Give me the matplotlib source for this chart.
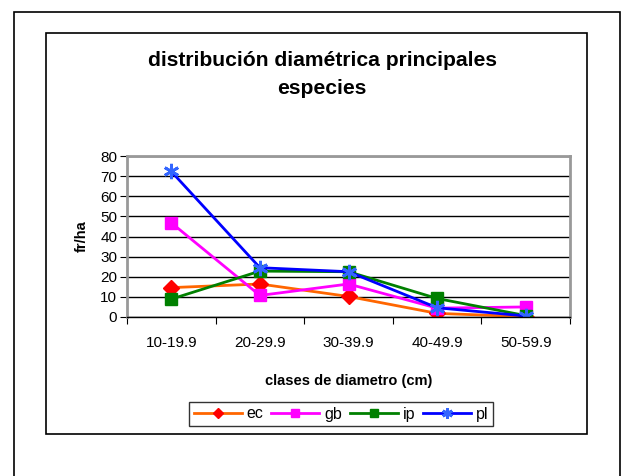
import matplotlib.pyplot as plt
from matplotlib.patches import Rectangle

plt.rcParams['font.family'] = ['Liberation Sans', 'DejaVu Sans']

clases = ['10-19.9', '20-29.9', '30-39.9', '40-49.9', '50-59.9']
ec = [14.6, 16.4, 10.2, 1.8, 0.2]
gb = [46.8, 10.7, 16.4, 4.4, 5.0]
ip = [8.9, 22.8, 22.5, 9.2, 0.7]
pl = [72.3, 24.5, 22.5, 4.6, 0.5]

W, H = 622, 476
fig = plt.figure(figsize=(W / 100, H / 100), dpi=100)

# marcos exterior e interior (coordenadas en pixeles)
def px_rect(x0, y0, x1, y1, lw):
    return Rectangle((x0 / W, 1 - y1 / H), (x1 - x0) / W, (y1 - y0) / H,
                     transform=fig.transFigure, fill=False, edgecolor='black',
                     linewidth=lw, clip_on=False)

fig.patches.append(px_rect(14, 12, 620, 490, 1.2))
fig.patches.append(px_rect(46, 33, 587, 434, 1.2))

ax = fig.add_axes([127 / W, 1 - 317 / H, (570 - 127) / W, (317 - 156) / H])

x = range(len(clases))
ax.plot(x, ec, color='#FF6600', lw=2, marker='D', ms=8, mfc='#FF0000', mec='#FF0000', label='ec')
ax.plot(x, gb, color='#FF00FF', lw=2, marker='s', ms=8, mfc='#FF00FF', mec='#FF00FF', label='gb')
ax.plot(x, ip, color='#008000', lw=2, marker='s', ms=8, mfc='#008000', mec='#008000', label='ip')
ax.plot(x, pl, color='#0000FF', lw=2, marker=(6, 2, 0), ms=11, mec='#3366FF', mew=2, label='pl')

ax.set_xlim(-0.5, 4.5)
ax.set_ylim(0, 80)
ax.set_yticks(range(0, 81, 10))
ax.yaxis.grid(True, color='black', lw=1)
ax.set_axisbelow(True)
for s in ax.spines.values():
    s.set_color('#999999')
    s.set_linewidth(2)
ax.spines['bottom'].set_color('black')
ax.spines['bottom'].set_linewidth(1)

ax.set_xticks([i + 0.5 for i in range(-1, 5)])
ax.set_xticklabels([])
ax.set_xticks(list(x), minor=True)
ax.set_xticklabels(clases, minor=True, fontsize=11)
ax.tick_params(axis='x', which='minor', length=0, pad=14)
ax.tick_params(axis='x', which='major', direction='out', length=5, color='black')
ax.tick_params(axis='y', direction='out', length=5, labelsize=11, pad=2)

ax.set_ylabel('fr/ha', fontsize=10.5, fontweight='bold', labelpad=8)
ax.set_xlabel('clases de diametro (cm)', fontsize=10.5, fontweight='bold', labelpad=17)

fig.text(322 / W, 1 - 75 / H, 'distribución diamétrica principales\nespecies',
         ha='center', va='center', fontsize=15.2, fontweight='bold', linespacing=1.6)

leg = fig.legend(loc='center', bbox_to_anchor=(341 / W, 1 - 414 / H), ncol=4,
                 frameon=True, fancybox=False, fontsize=11.5, handlelength=3.0,
                 columnspacing=0.5, handletextpad=0.3, borderpad=0.3, markerscale=0.7)
leg.get_frame().set_edgecolor('black')
leg.get_frame().set_linewidth(1)

fig.savefig('out.png', dpi=100)
